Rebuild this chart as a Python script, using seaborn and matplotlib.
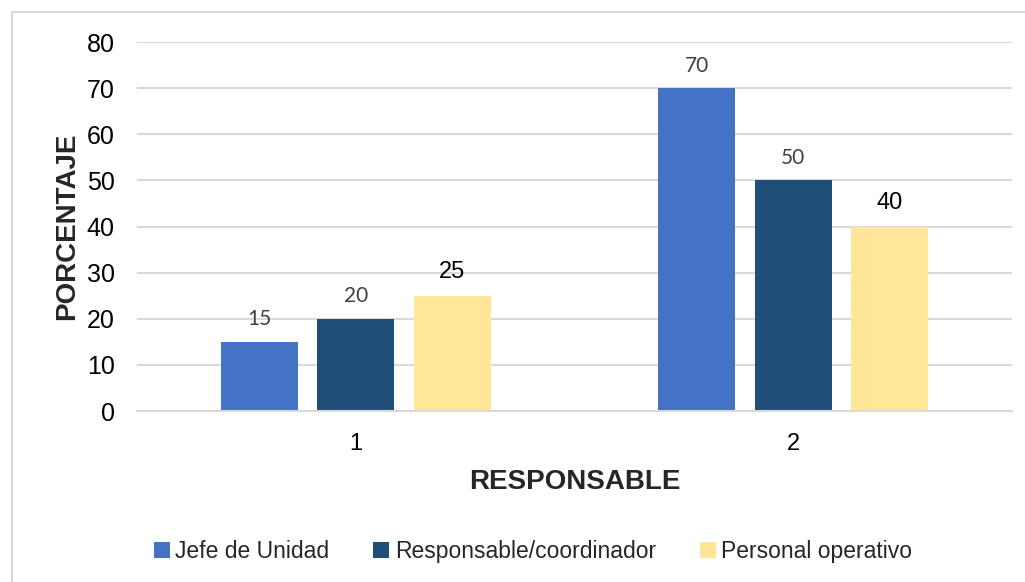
import matplotlib
matplotlib.use("Agg")
import matplotlib.pyplot as plt
import seaborn as sns
import pandas as pd
from matplotlib.patches import Rectangle

# Data
groups = ["1", "2"]
series = ["Jefe de Unidad", "Responsable/coordinador", "Personal operativo"]
jefe = [15, 70]
responsable = [20, 50]
personal = [25, 40]
colors = ["#4472C4", "#1F4E79", "#FFE699"]

df = pd.DataFrame({
    "grupo": groups * 3,
    "serie": [s for s in series for _ in groups],
    "valor": jefe + responsable + personal,
})

sns.set_theme(style="white")
plt.rcParams["font.family"] = ["Liberation Sans", "DejaVu Sans"]

fig = plt.figure(figsize=(10.25, 5.82), dpi=100)
ax = fig.add_axes([0.1337, 0.2938, 0.8536, 0.634])

sns.barplot(data=df, x="grupo", y="valor", hue="serie", order=groups,
            hue_order=series, palette=colors, width=0.662, gap=0.2,
            saturation=1, linewidth=0, ax=ax, legend=True)

ax.set_ylim(0, 80)
ax.set_xlim(-0.5, 1.5)
ax.set_yticks(range(0, 81, 10))
ax.yaxis.grid(True, color="#D9D9D9", linewidth=1.5)
ax.set_axisbelow(True)
for side in ["top", "right", "left"]:
    ax.spines[side].set_visible(False)
ax.spines["bottom"].set_color("#D9D9D9")
ax.spines["bottom"].set_linewidth(1.5)
ax.tick_params(axis="y", length=0, pad=16, labelsize=18, labelcolor="black")
ax.tick_params(axis="x", length=0, pad=16, labelsize=17, labelcolor="black")

ax.set_xlabel("RESPONSABLE", fontsize=20, fontweight="bold", labelpad=10)
ax.set_ylabel("PORCENTAJE", fontsize=20, fontweight="bold", labelpad=5)

# Value labels above each bar
label_styles = [
    dict(color="#404040", fontsize=15, family=["Lato", "DejaVu Sans"]),
    dict(color="#404040", fontsize=15, family=["Lato", "DejaVu Sans"]),
    dict(color="black", fontsize=17, family=["Liberation Sans", "DejaVu Sans"]),
]
for cont, style in zip(ax.containers, label_styles):
    ax.bar_label(cont, labels=[f"{v:g}" for v in cont.datavalues],
                 padding=9, **style)

# Legend below the plot
handles, labels = ax.get_legend_handles_labels()
ax.legend_.remove()
fig.legend(handles, labels, loc="center", bbox_to_anchor=(0.52, 0.053),
           ncol=3, frameon=False, fontsize=16.5, handlelength=0.7,
           handleheight=0.7, handletextpad=0.25, columnspacing=1.9)

# Light frame around the chart area
fig.add_artist(Rectangle((12 / 1025, -0.1), 1.2, 1 - 12 / 582 + 0.1,
                         transform=fig.transFigure, fill=False,
                         edgecolor="#D9D9D9", linewidth=1.5))

fig.savefig("out.png", dpi=100)
